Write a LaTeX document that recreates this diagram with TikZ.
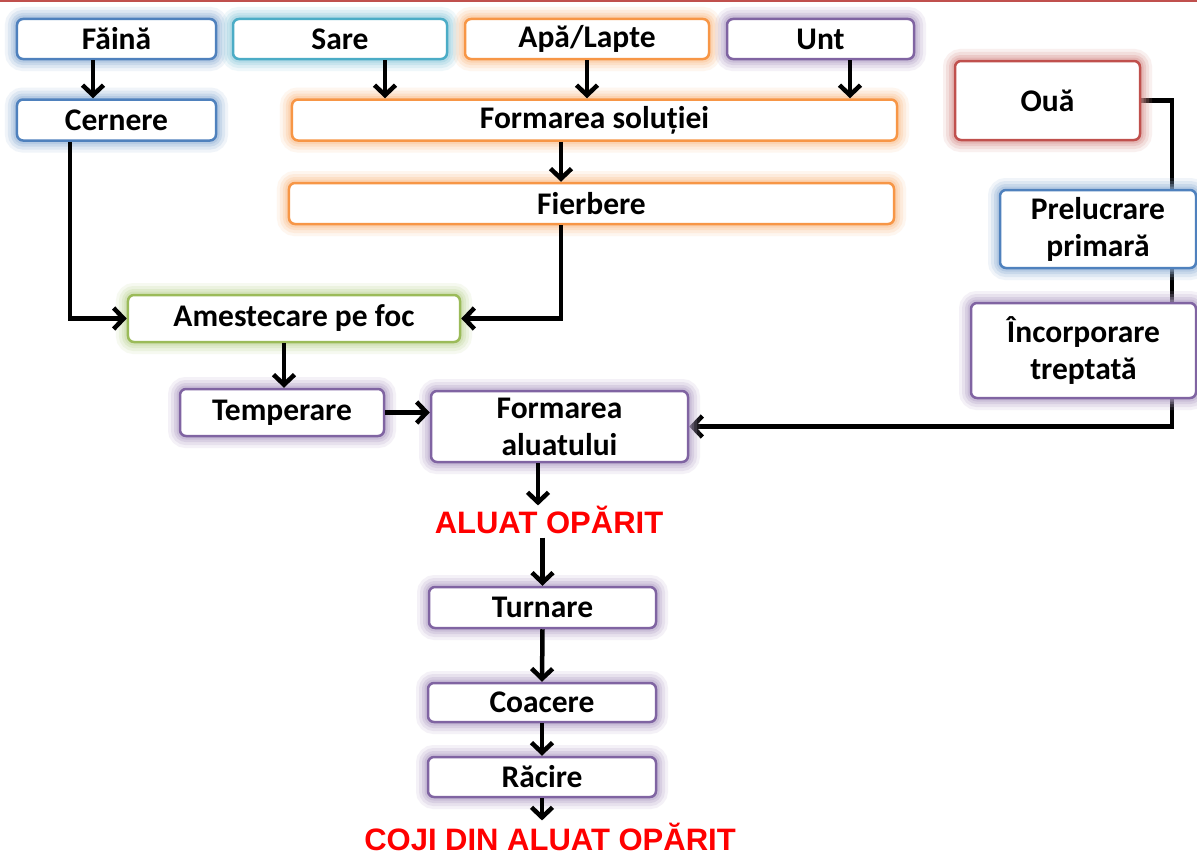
\documentclass[tikz,border=0pt]{standalone}
\usepackage{fontspec}
\setmainfont{Carlito}
\newfontfamily\arialfont{Liberation Sans}
\usetikzlibrary{arrows.meta,calc}
\definecolor{cblue}{HTML}{4F81BD}
\definecolor{cteal}{HTML}{4BACC6}
\definecolor{corange}{HTML}{F79646}
\definecolor{cpurple}{HTML}{8064A2}
\definecolor{cgreen}{HTML}{9BBB59}
\definecolor{cred}{HTML}{C0504D}
\definecolor{tred}{HTML}{FF0000}
\pgfdeclarelayer{bg}
\pgfsetlayers{bg,main}
\tikzset{
  glow/.style={
    preaction={draw=#1!60, line width=24bp, opacity=0.14},
    preaction={draw=#1!60, line width=18bp, opacity=0.20},
    preaction={draw=#1!60, line width=12bp, opacity=0.28},
    preaction={draw=#1!60, line width=7bp, opacity=0.36}},
  box/.style={rectangle, rounded corners=6bp, draw=#1, line width=2.5bp, fill=white,
    glow=#1, inner sep=0pt, align=center,
    font=\fontsize{31.5bp}{37bp}\selectfont\bfseries},
  redlabel/.style={text=tred, inner sep=0pt, anchor=base, font=\fontsize{31bp}{34bp}\selectfont\arialfont\bfseries},
  arr/.style={draw=black, line width=4.5bp, -{Straight Barb[length=10bp,width=21bp]}},
}
\begin{document}
\begin{tikzpicture}[x=1bp,y=-1bp]
\useasboundingbox (0,0) rectangle (1197,856);
\begin{pgfonlayer}{bg}
\fill[white] (0,0) rectangle (1197,856);
\end{pgfonlayer}
\draw[cred, line width=2bp] (0,1) -- (1197,1);

% nodes
\node[box=cblue, minimum width=199bp, minimum height=40bp] (fain) at (116.5,39) {Făină};
\node[box=cteal, minimum width=214bp, minimum height=40bp] (sare) at (340,39) {Sare};
\node[box=corange, minimum width=244bp, minimum height=40bp] (apa) at (587,39) {Apă/Lapte};
\node[box=cpurple, minimum width=187bp, minimum height=40bp] (unt) at (820.5,39) {Unt};
\node[box=cblue, minimum width=199bp, minimum height=41bp] (cern) at (116.5,120) {Cernere};
\node[box=corange, minimum width=605bp, minimum height=41bp] (fs) at (594.5,120) {Formarea soluției};
\node[box=corange, minimum width=605bp, minimum height=41bp] (fier) at (591.5,203.5) {Fierbere};
\node[box=cred, minimum width=185bp, minimum height=79bp] (oua) at (1047.5,100.5) {Ouă};
\node[box=cblue, minimum width=196bp, minimum height=78bp] (prel) at (1098,229) {Prelucrare\\primară};
\node[box=cpurple, minimum width=225bp, minimum height=95bp] (inc) at (1083.5,350.5) {Încorporare\\treptată};
\node[box=cgreen, minimum width=332bp, minimum height=47bp] (am) at (294,318.5) {Amestecare pe foc};
\node[box=cpurple, minimum width=204bp, minimum height=47bp] (temp) at (282,412.5) {Temperare};
\node[box=cpurple, minimum width=257bp, minimum height=71bp] (fa) at (559.5,426.5) {Formarea\\aluatului};
\node[redlabel] (aluat) at (549,533) {ALUAT OPĂRIT};
\node[box=cpurple, minimum width=227bp, minimum height=41bp] (turn) at (542.5,607.5) {Turnare};
\node[box=cpurple, minimum width=228bp, minimum height=39bp] (coac) at (542,702.5) {Coacere};
\node[box=cpurple, minimum width=228bp, minimum height=40bp] (rac) at (542,777) {Răcire};
\node[redlabel] (coji) at (550,850) {COJI DIN ALUAT OPĂRIT};

% helper coordinates
\coordinate (xf) at (93,0);
\coordinate (xs) at (385,0);
\coordinate (xu) at (850,0);
\coordinate (xfi) at (561,0);
\coordinate (xc) at (70,0);
\coordinate (xa) at (284,0);
\coordinate (xal) at (538,0);
\coordinate (xo) at (1172,0);

% connectors
\draw[arr] (fain.south -| xf) -- (cern.north -| xf);
\draw[arr] (sare.south -| xs) -- (fs.north -| xs);
\draw[arr] (apa.south) -- (fs.north -| apa.south);
\draw[arr] (unt.south -| xu) -- (fs.north -| xu);
\draw[arr] (fs.south -| xfi) -- (fier.north -| xfi);
\draw[arr] (cern.south -| xc) |- (am.west);
\draw[arr] (fier.south -| xfi) |- (am.east);
\draw[arr] (am.south -| xa) -- (temp.north -| xa);
\draw[arr] (temp.east) -- (fa.west |- temp.east);
\begin{pgfonlayer}{bg}
\draw[arr] (oua.east) -| (xo |- fa.east) -- (fa.east);
\end{pgfonlayer}
\draw[arr] (fa.south -| xal) -- (aluat.north -| xal);
\draw[arr] ([yshift=-4bp]aluat.south -| turn.north) -- (turn.north);
\draw[arr] (turn.south) -- (coac.north);
\draw[arr] (coac.south) -- (rac.north);
\draw[arr] (rac.south) -- ([yshift=2bp]coji.north -| rac.south);
\end{tikzpicture}
\end{document}
